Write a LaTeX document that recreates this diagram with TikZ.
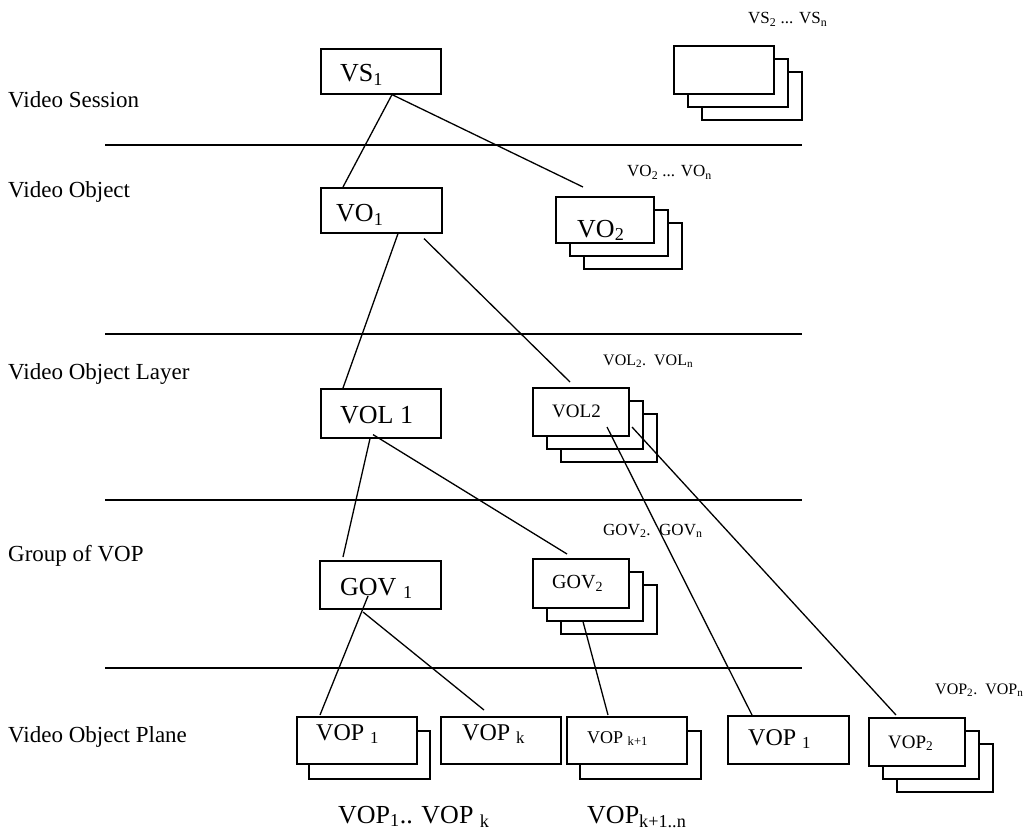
\documentclass[tikz,border=0pt]{standalone}
\usepackage{fontspec}
\setmainfont{Liberation Serif}
\newcommand{\fsz}[1]{\fontsize{#1}{#1}\selectfont}
\tikzset{
  box/.style={draw, line width=1.6pt, fill=white, anchor=north west, inner sep=0pt},
  boxtext/.style={anchor=base west, inner sep=0pt},
  link/.style={line width=1.3pt},
  rule/.style={line width=1.4pt},
}

\begin{document}
\begin{tikzpicture}[x=1pt, y=-1pt]
\useasboundingbox (0,0) rectangle (1025,829);
% Rules between levels
\foreach \y in {145,334,500,668} {
  \draw[rule] (105,\y) -- (802,\y);
}
% Level names
\foreach \y/\lvl [count=\i] in {108/Video Session,197/Video Object,379/Video Object Layer,561/Group of VOP,742/Video Object Plane} {
  \node[boxtext, font=\fsz{23}] (lvl\i) at (8,\y) {\lvl};
}
% Stacks (back boxes first)
\foreach \x/\y/\w/\h/\n in {673/45/100/48/vsx,555/196/98/46/vox,532/387/96/48/volx,532/558/96/49/govx,868/717/96/48/vopx} {
  \node[box, minimum width={\w pt}, minimum height={\h pt}] (\n3) at (\x+28,\y+26) {};
  \node[box, minimum width={\w pt}, minimum height={\h pt}] (\n2) at (\x+14,\y+13) {};
  \node[box, minimum width={\w pt}, minimum height={\h pt}] (\n1) at (\x,\y) {};
}
% Single boxes
\node[box, minimum width=120pt, minimum height=45pt] (vs1) at (320,48) {};
\node[box, minimum width=121pt, minimum height=45pt] (vo1) at (320,187) {};
\node[box, minimum width=120pt, minimum height=49pt] (vol1) at (320,388) {};
\node[box, minimum width=121pt, minimum height=48pt] (gov1) at (319,560) {};
\node[box, minimum width=121pt, minimum height=48pt] (vop1b) at (308,730) {};
\node[box, minimum width=120pt, minimum height=47pt] (vop1) at (296,716) {};
\node[box, minimum width=120pt, minimum height=47pt] (vopk) at (440,716) {};
\node[box, minimum width=121pt, minimum height=48pt] (vopkkb) at (579,730) {};
\node[box, minimum width=120pt, minimum height=47pt] (vopkk) at (566,716) {};
\node[box, minimum width=121pt, minimum height=48pt] (vopone) at (727,715) {};
% Box texts
\node[boxtext, font=\fsz{26}] (vs1t) at ([shift={(20pt,-34pt)}]vs1.north west) {VS\textsubscript{1}};
\node[boxtext, font=\fsz{26}] (vo1t) at ([shift={(16pt,-35pt)}]vo1.north west) {VO\textsubscript{1}};
\node[boxtext, font=\fsz{26}] (vol1t) at ([shift={(20pt,-35pt)}]vol1.north west) {VOL 1};
\node[boxtext, font=\fsz{26}] (gov1t) at ([shift={(21pt,-35pt)}]gov1.north west) {GOV \textsubscript{1}};
\node[boxtext, font=\fsz{24}] (vop1t) at ([shift={(20pt,-24pt)}]vop1.north west) {VOP \textsubscript{1}};
\node[boxtext, font=\fsz{24}] (vopkt) at ([shift={(22pt,-24pt)}]vopk.north west) {VOP \textsubscript{k}};
\node[boxtext, font=\fsz{18}] (vopkkt) at ([shift={(21pt,-27pt)}]vopkk.north west) {VOP \textsubscript{k+1}};
\node[boxtext, font=\fsz{24}] (vopt) at ([shift={(21pt,-30pt)}]vopone.north west) {VOP \textsubscript{1}};
\node[boxtext, font=\fsz{26}] (voxt) at ([shift={(22pt,-41pt)}]vox1.north west) {VO\textsubscript{2}};
\node[boxtext, font=\fsz{19}] (volxt) at ([shift={(20pt,-30pt)}]volx1.north west) {VOL2};
\node[boxtext, font=\fsz{20}] (govxt) at ([shift={(20pt,-30pt)}]govx1.north west) {GOV\textsubscript{2}};
\node[boxtext, font=\fsz{19}] (vopxt) at ([shift={(20pt,-31pt)}]vopx1.north west) {VOP\textsubscript{2}};
% Stack labels
\node[boxtext, font=\fsz{17}] (vsn) at (748,24) {VS\textsubscript{2} ... VS\textsubscript{n}};
\node[boxtext, font=\fsz{17}] (von) at (627,177) {VO\textsubscript{2} ... VO\textsubscript{n}};
\node[boxtext, font=\fsz{16}] (voln) at (603,365) {VOL\textsubscript{2}.\ \ VOL\textsubscript{n}};
\node[boxtext, font=\fsz{17}] (govn) at (603,535) {GOV\textsubscript{2}.\ \ GOV\textsubscript{n}};
\node[boxtext, font=\fsz{16}] (vopn) at (935,694) {VOP\textsubscript{2}.\ \ VOP\textsubscript{n}};
\node[boxtext, font=\fsz{26}] (vopa) at (338,823) {VOP\textsubscript{1}.. VOP \textsubscript{k}};
\node[boxtext, font=\fsz{26}] (vopb) at (587,823) {VOP\textsubscript{k+1..n}};
% Links
\draw[link] ([xshift=72pt]vs1.south west) -- ([xshift=23pt]vo1.north west);
\draw[link] ([xshift=72pt]vs1.south west) -- ([shift={(28pt,9pt)}]vox1.north west);
\draw[link] ([xshift=78pt]vo1.south west) -- ([xshift=23pt]vol1.north west);
\draw[link] ([shift={(104pt,-5pt)}]vo1.south west) -- ([shift={(38pt,5pt)}]volx1.north west);
\draw[link] ([xshift=50pt]vol1.south west) -- ([shift={(24pt,3pt)}]gov1.north west);
\draw[link] ([shift={(53pt,4pt)}]vol1.south west) -- ([shift={(35pt,4pt)}]govx1.north west);
\draw[link] ([shift={(75pt,-40pt)}]volx1.north west) -- ([xshift=25pt]vopone.north west);
\draw[link] ([shift={(100pt,-40pt)}]volx1.north west) -- ([shift={(28pt,2pt)}]vopx1.north west);
\draw[link] ([shift={(49pt,-36pt)}]gov1.north west) -- ([shift={(24pt,1pt)}]vop1.north west);
\draw[link] ([shift={(44pt,-52pt)}]gov1.north west) -- ([shift={(44pt,6pt)}]vopk.north west);
\draw[link] ([xshift=37pt]govx2.south west) -- ([shift={(42pt,1pt)}]vopkk.north west);
\end{tikzpicture}
\end{document}
